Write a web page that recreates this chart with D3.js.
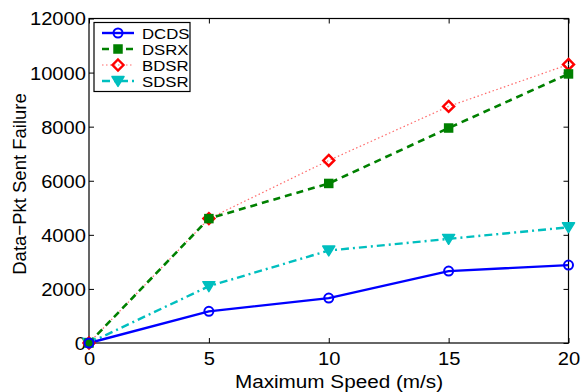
<!DOCTYPE html>
<html>
<head>
<meta charset="utf-8">
<script src="https://cdn.jsdelivr.net/npm/d3@7"></script>
<style>
  html, body { margin: 0; padding: 0; background: #fff; }
  svg { display: block; }
  text { font-family: "Liberation Sans", Arial, Helvetica, sans-serif; fill: #000; }
</style>
</head>
<body>
<svg id="chart" width="582" height="392"></svg>
<script>
// Maximum speed (m/s) on the x axis
const speeds = [0, 5, 10, 15, 20];
// Data packets that failed to be sent, per protocol
const dcds = [0, 1170, 1660, 2660, 2880];
const dsrx = [0, 4600, 5900, 7950, 9950];
const bdsr = [0, 4600, 6750, 8750, 10300];
const sdsr = [0, 2100, 3420, 3850, 4280];
const seriesNames = ["DCDS", "DSRX", "BDSR", "SDSR"];
const xTicks = [0, 5, 10, 15, 20];
const yTicks = [0, 2000, 4000, 6000, 8000, 10000, 12000];

const svg = d3.select("#chart");
const plotLeft = 89, plotRight = 568.5, plotTop = 18.5, plotBottom = 343;
const stretch = 1.12; // horizontal widening of the tick and title glyphs

const x = d3.scaleLinear().domain([0, 20]).range([plotLeft, plotRight]);
const y = d3.scaleLinear().domain([0, 12000]).range([plotBottom, plotTop]);

const styles = {
  DCDS: { color: "#0000ff", width: 2.4, dash: null, marker: "circle" },
  DSRX: { color: "#008000", width: 2.6, dash: "7,5", marker: "square" },
  BDSR: { color: "#ff6a6a", width: 1.2, dash: "1.5,2.5", marker: "diamond" },
  SDSR: { color: "#00bfbf", width: 2.4, dash: "8,4,2,4", marker: "triangle" }
};
const values = { DCDS: dcds, DSRX: dsrx, BDSR: bdsr, SDSR: sdsr };

// Axes box with inward ticks on all four sides
const g = svg.append("g");
g.append("rect").attr("x", plotLeft).attr("y", plotTop)
  .attr("width", plotRight - plotLeft).attr("height", plotBottom - plotTop)
  .attr("fill", "none").attr("stroke", "#000").attr("stroke-width", 1.2);

const fontSize = 18;
const xAxis = d3.axisBottom(x).tickValues(xTicks).tickSize(-5).tickPadding(0).tickFormat(d3.format("d"));
const yAxis = d3.axisLeft(y).tickValues(yTicks).tickSize(-5).tickPadding(0).tickFormat(d3.format("d"));

const gx = g.append("g").attr("transform", `translate(0,${plotBottom})`).call(xAxis);
const gy = g.append("g").attr("transform", `translate(${plotLeft},0)`).call(yAxis);
[gx, gy].forEach(a => {
  a.select(".domain").remove();
  a.selectAll(".tick line").attr("stroke", "#000").attr("stroke-width", 1);
  a.selectAll(".tick text").attr("font-size", fontSize)
    .attr("font-family", '"Liberation Sans", Arial, sans-serif').attr("fill", "#000");
});
gx.selectAll(".tick text").attr("y", 0).attr("x", 0).attr("dy", null)
  .attr("transform", `translate(0,22) scale(${stretch},1)`);
gy.selectAll(".tick text").attr("x", 0).attr("dy", "0.36em")
  .attr("transform", `translate(-3,0) scale(${stretch},1)`);

// Mirror ticks on top and right edges
g.append("g").attr("transform", `translate(0,${plotTop})`)
  .call(d3.axisTop(x).tickValues(xTicks).tickSize(-5).tickFormat(""))
  .call(a => { a.select(".domain").remove(); a.selectAll("line").attr("stroke", "#000"); });
g.append("g").attr("transform", `translate(${plotRight},0)`)
  .call(d3.axisRight(y).tickValues(yTicks).tickSize(-5).tickFormat(""))
  .call(a => { a.select(".domain").remove(); a.selectAll("line").attr("stroke", "#000"); });

// Axis titles
svg.append("text").attr("transform", `translate(339,388) scale(${stretch},1)`)
  .attr("text-anchor", "middle").attr("font-size", 18.5).text("Maximum Speed (m/s)");
svg.append("text").attr("transform", `translate(26,184) rotate(-90)`)
  .attr("text-anchor", "middle").attr("font-size", 18.5).text("Data\u2212Pkt Sent Failure");

function drawMarker(sel, kind, color, cx, cy) {
  if (kind === "circle") {
    sel.append("circle").attr("cx", cx).attr("cy", cy).attr("r", 4.5)
      .attr("fill", "none").attr("stroke", color).attr("stroke-width", 2);
  } else if (kind === "square") {
    sel.append("rect").attr("x", cx - 4).attr("y", cy - 4).attr("width", 8).attr("height", 8)
      .attr("fill", color).attr("stroke", color).attr("stroke-width", 1.5);
  } else if (kind === "diamond") {
    const s = 5.5;
    sel.append("path").attr("d", `M${cx},${cy - s}L${cx + s},${cy}L${cx},${cy + s}L${cx - s},${cy}Z`)
      .attr("fill", "none").attr("stroke", "#ff0000").attr("stroke-width", 2.4);
  } else if (kind === "triangle") {
    const s = 6;
    sel.append("path").attr("d", `M${cx - s},${cy - s * 0.75}L${cx + s},${cy - s * 0.75}L${cx},${cy + s * 0.9}Z`)
      .attr("fill", color).attr("stroke", color).attr("stroke-width", 1.5).attr("stroke-linejoin", "round");
  }
}

const line = d3.line().x((d, i) => x(speeds[i])).y(d => y(d));
const plot = svg.append("g");
// Draw in reverse so the DCDS line sits on top at the origin
seriesNames.slice().reverse().forEach(name => {
  const st = styles[name];
  plot.append("path").datum(values[name]).attr("d", line)
    .attr("fill", "none").attr("stroke", st.color).attr("stroke-width", st.width)
    .attr("stroke-dasharray", st.dash);
});
seriesNames.slice().reverse().forEach(name => {
  const st = styles[name];
  values[name].forEach((v, i) => drawMarker(plot, st.marker, st.color, x(speeds[i]), y(v)));
});

// Legend
const lg = svg.append("g");
lg.append("rect").attr("x", 94).attr("y", 22.5).attr("width", 96).attr("height", 69)
  .attr("fill", "#fff").attr("stroke", "#000").attr("stroke-width", 1.2);
seriesNames.forEach((name, i) => {
  const st = styles[name];
  const ly = 33 + i * 16;
  lg.append("line").attr("x1", 102).attr("x2", 134).attr("y1", ly).attr("y2", ly)
    .attr("stroke", st.color).attr("stroke-width", st.width).attr("stroke-dasharray", st.dash);
  drawMarker(lg, st.marker, st.color, 118, ly);
  lg.append("text").attr("transform", `translate(142,${ly}) scale(1.08,1)`).attr("dy", "0.36em")
    .attr("font-size", 15.5).text(name);
});
</script>
</body>
</html>
